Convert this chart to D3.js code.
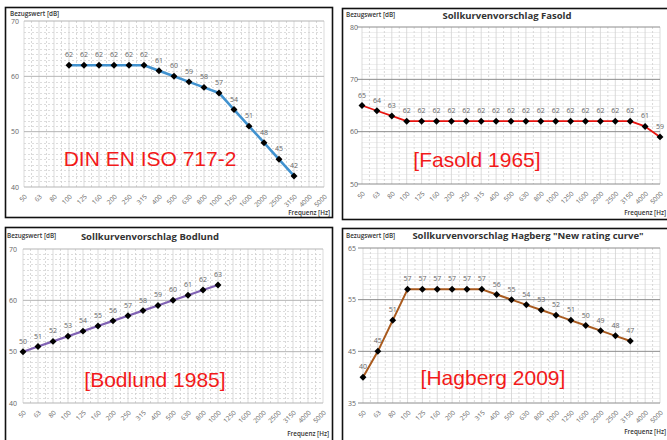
<!DOCTYPE html>
<html>
<head>
<meta charset="utf-8">
<script src="https://cdn.jsdelivr.net/npm/d3@7"></script>
<style>
  html, body { margin: 0; padding: 0; background: #fff; }
  svg { display: block; }
</style>
</head>
<body>
<svg id="chart" width="667" height="440"></svg>
<script>
// Third-octave band centre frequencies shared by all four curves
const frequencies = ["50","63","80","100","125","160","200","250","315","400","500","630","800","1000","1250","1600","2000","2500","3150","4000","5000"];

// DIN EN ISO 717-2 reference curve (100 Hz .. 3150 Hz)
const isoFreqs  = ["100","125","160","200","250","315","400","500","630","800","1000","1250","1600","2000","2500","3150"];
const isoValues = [62,62,62,62,62,62,61,60,59,58,57,54,51,48,45,42];

// Fasold 1965 (50 Hz .. 5000 Hz)
const fasoldFreqs  = frequencies;
const fasoldValues = [65,64,63,62,62,62,62,62,62,62,62,62,62,62,62,62,62,62,62,61,59];

// Bodlund 1985 (50 Hz .. 1000 Hz)
const bodlundFreqs  = ["50","63","80","100","125","160","200","250","315","400","500","630","800","1000"];
const bodlundValues = [50,51,52,53,54,55,56,57,58,59,60,61,62,63];

// Hagberg 2009 "New rating curve" (50 Hz .. 3150 Hz)
const hagbergFreqs  = ["50","63","80","100","125","160","200","250","315","400","500","630","800","1000","1250","1600","2000","2500","3150"];
const hagbergValues = [40,45,51,57,57,57,57,57,57,56,55,54,53,52,51,50,49,48,47];

// Y tick labels per panel
const isoTicks     = [40,50,60,70];
const fasoldTicks  = [50,60,70,80];
const bodlundTicks = [40,50,60,70];
const hagbergTicks = [35,45,55,65];

const svg = d3.select("#chart");
const FONT = "'Open Sans', 'DejaVu Sans', sans-serif";

const panels = [
  { box:{x:5.5,y:7.5,w:327,h:210}, plot:{l:24,r:324,t:21,b:187}, domain:[40,70], ticks:isoTicks,
    freqs:isoFreqs, values:isoValues, color:"#4192cf", lw:2.6, title:null, style:"dashed",
    tag:"DIN EN ISO 717-2", tagX:150, tagY:166, yLabX:19, bezX:10, bezY:16, freqY:215 },
  { box:{x:342.5,y:8.5,w:340,h:211}, plot:{l:362,r:660,t:27,b:184}, domain:[50,80], ticks:fasoldTicks,
    freqs:fasoldFreqs, values:fasoldValues, color:"#e8140f", lw:1.8, title:"Sollkurvenvorschlag Fasold",
    titleX:507, titleY:19, style:"solid", tag:"[Fasold 1965]", tagX:477, tagY:167, yLabX:358, bezX:346, bezY:17, freqY:215 },
  { box:{x:5.5,y:227.5,w:327,h:230}, plot:{l:23,r:323,t:249,b:403}, domain:[40,70], ticks:bodlundTicks,
    freqs:bodlundFreqs, values:bodlundValues, color:"#8062b4", lw:2.2, title:"Sollkurvenvorschlag Bodlund",
    titleX:150, titleY:240, style:"dashed", tag:"[Bodlund 1985]", tagX:155, tagY:387, yLabX:17, bezX:7, bezY:238, freqY:436 },
  { box:{x:342.5,y:228.5,w:340,h:230}, plot:{l:363,r:660,t:248,b:403}, domain:[35,65], ticks:hagbergTicks,
    freqs:hagbergFreqs, values:hagbergValues, color:"#a95a1e", lw:2, title:"Sollkurvenvorschlag Hagberg \"New rating curve\"",
    titleX:528, titleY:239, style:"solid", tag:"[Hagberg 2009]", tagX:493, tagY:385, yLabX:356, bezX:346, bezY:238, freqY:434 }
];

panels.forEach(p => {
  const g = svg.append("g");
  const x = d3.scalePoint().domain(frequencies).range([p.plot.l, p.plot.r]);
  const y = d3.scaleLinear().domain(p.domain).range([p.plot.b, p.plot.t]);

  // panel frame
  g.append("rect")
    .attr("x", p.box.x).attr("y", p.box.y).attr("width", p.box.w).attr("height", p.box.h)
    .attr("fill", "#fff").attr("stroke", "#111").attr("stroke-width", 1.6);

  // minor horizontal grid (1 dB)
  const minor = d3.range(p.domain[0] + 1, p.domain[1]).filter(v => (v - p.domain[0]) % 10 !== 0);
  g.selectAll(null).data(minor).join("line")
    .attr("x1", p.plot.l).attr("x2", p.plot.r)
    .attr("y1", d => Math.round(y(d)) + 0.5).attr("y2", d => Math.round(y(d)) + 0.5)
    .attr("stroke", p.style === "dashed" ? "#d4d4d4" : "#ebebeb")
    .attr("stroke-width", 0.8)
    .attr("stroke-dasharray", p.style === "dashed" ? "2,2" : null);

  // vertical grid: solid at bands, dashed between
  const step = x.step();
  g.selectAll(null).data(frequencies).join("line")
    .attr("x1", d => x(d)).attr("x2", d => x(d))
    .attr("y1", p.plot.t).attr("y2", p.plot.b)
    .attr("stroke", "#d2d2d2").attr("stroke-width", 0.8);
  g.selectAll(null).data(frequencies.slice(0, -1)).join("line")
    .attr("x1", d => x(d) + step / 2).attr("x2", d => x(d) + step / 2)
    .attr("y1", p.plot.t).attr("y2", p.plot.b)
    .attr("stroke", "#cfcfcf").attr("stroke-width", 0.8).attr("stroke-dasharray", "2,2");

  // major horizontal grid
  g.selectAll(null).data(p.ticks).join("line")
    .attr("x1", p.plot.l - (p.style === "solid" ? 5 : 0)).attr("x2", p.plot.r)
    .attr("y1", d => y(d)).attr("y2", d => y(d))
    .attr("stroke", p.style === "solid" ? "#8c8c8c" : "#b5b5b5").attr("stroke-width", 1);

  // y tick labels
  const yAxis = g.append("g").attr("transform", `translate(${p.yLabX},0)`)
    .call(d3.axisLeft(y).tickValues(p.ticks).tickSize(0).tickPadding(0));
  yAxis.select(".domain").remove();
  yAxis.selectAll("text").attr("font-family", FONT).attr("font-size", 7).attr("fill", "#666")
    .attr("text-anchor", "end");

  // x tick labels, rotated
  const xAxis = g.append("g").attr("transform", `translate(0,${p.plot.b})`)
    .call(d3.axisBottom(x).tickSize(0).tickPadding(0));
  xAxis.select(".domain").remove();
  xAxis.selectAll("text")
    .attr("font-family", FONT).attr("font-size", 6.5).attr("fill", "#666")
    .attr("text-anchor", "end").attr("dy", null).attr("y", 0)
    .attr("transform", "translate(3,10) rotate(-45)");

  // axis captions
  g.append("text").attr("x", p.bezX).attr("y", p.bezY)
    .attr("font-family", FONT).attr("font-size", 6.3).attr("font-weight", 600).attr("fill", "#333")
    .text("Bezugswert [dB]");
  g.append("text").attr("x", Math.min(p.plot.r + 6, 666)).attr("y", p.freqY)
    .attr("text-anchor", "end")
    .attr("font-family", FONT).attr("font-size", 6.3).attr("font-weight", 600).attr("fill", "#333")
    .text("Frequenz [Hz]");

  if (p.title) {
    g.append("text").attr("x", p.titleX).attr("y", p.titleY).attr("text-anchor", "middle")
      .attr("font-family", FONT).attr("font-size", 9.5).attr("font-weight", 700).attr("fill", "#333")
      .text(p.title);
  }

  // curve
  const pts = p.freqs.map((f, i) => ({ f, v: p.values[i] }));
  g.append("path").datum(pts)
    .attr("fill", "none").attr("stroke", p.color).attr("stroke-width", p.lw)
    .attr("stroke-linejoin", "round")
    .attr("d", d3.line().x(d => x(d.f)).y(d => y(d.v)));

  // diamond markers
  g.selectAll(null).data(pts).join("path")
    .attr("d", d3.symbol().type(d3.symbolSquare).size(24))
    .attr("transform", d => `translate(${x(d.f)},${y(d.v)}) rotate(45)`)
    .attr("fill", "#000");

  // value labels
  g.selectAll(null).data(pts).join("text")
    .attr("x", d => x(d.f)).attr("y", d => y(d.v) - 8)
    .attr("text-anchor", "middle")
    .attr("font-family", FONT).attr("font-size", 7).attr("fill", "#666")
    .text(d => d.v);

  // source tag
  g.append("text").attr("x", p.tagX).attr("y", p.tagY).attr("text-anchor", "middle")
    .attr("font-family", "'Liberation Sans', Arial, sans-serif").attr("font-size", 21)
    .attr("fill", "#f21a1a")
    .text(p.tag);
});
</script>
</body>
</html>
